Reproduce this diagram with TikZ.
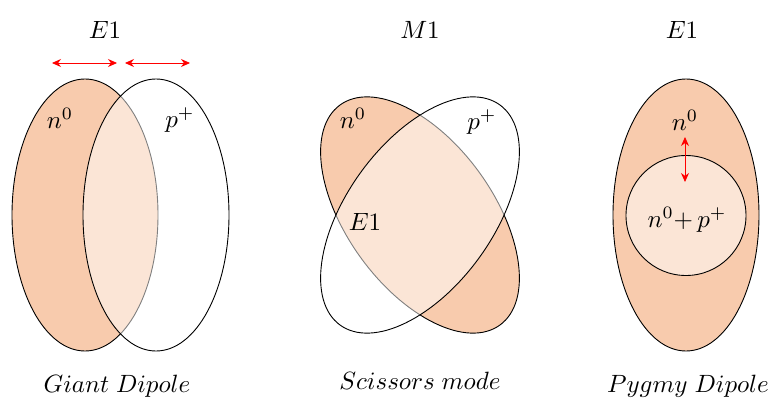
\documentclass[tikz,border=0pt]{standalone}
\usetikzlibrary{arrows.meta}
\definecolor{peach}{HTML}{F8CBAD}
\definecolor{lightpeach}{HTML}{FBE5D6}
\definecolor{arrred}{HTML}{FF0000}
\tikzset{
  filledshape/.style={fill=peach,draw=black,line width=0.9pt},
  whiteshape/.style={fill=white,fill opacity=0.5,draw=black,draw opacity=1,line width=0.9pt},
  innershape/.style={fill=lightpeach,draw=black,line width=0.9pt},
  lbl/.style={inner sep=0pt,scale=2.5},
  redarrow/.style={draw=arrred,line width=0.8pt,{Stealth[length=9pt,width=8pt]}-{Stealth[length=9pt,width=8pt]}}
}
\begin{document}
\begin{tikzpicture}[x=1pt,y=1pt]
\useasboundingbox (0,0) rectangle (780,400);
% Giant dipole
\draw[filledshape] (85,185) ellipse [x radius=73,y radius=136];
\draw[whiteshape] (156,185) ellipse [x radius=73,y radius=136];
\node[lbl] (e1a) at (105,370) {$E1$};
\node[lbl] (na) at (60,282) {$n^0$};
\node[lbl] (pa) at (180,280) {$p^+$};
\node[lbl] (gd) at (117,14) {$Giant\;Dipole$};
\coordinate (a1) at (52,337);
\coordinate (a2) at (117,337);
\coordinate (a3) at (125,337);
\coordinate (a4) at (190,337);
\draw[redarrow] (a1) -- (a2);
\draw[redarrow] (a3) -- (a4);
% Scissors
\draw[filledshape,rotate around={36:(420,185)}] (420,185) ellipse [x radius=73,y radius=136];
\draw[whiteshape,rotate around={-36:(420,185)}] (420,185) ellipse [x radius=73,y radius=136];
\node[lbl] (nb) at (353,282) {$n^0$};
\node[lbl] (pb) at (482,278) {$p^+$};
\node[lbl] (e1m) at (365,178) {$E1$};
\node[lbl] (m1) at (420,370) {$M1$};
\node[lbl] (sm) at (420,19) {$Scissors\;mode$};
% Pygmy
\draw[filledshape] (686,185) ellipse [x radius=73,y radius=136];
\draw[innershape] (686,184.5) circle [radius=60];
\node[lbl] (nc) at (685,280) {$n^0$};
\node[lbl] (npc) at (687,180) {$n^0{+}\,p^+$};
\node[lbl] (e1c) at (682,370) {$E1$};
\node[lbl] (pd) at (688,14) {$Pygmy\;Dipole$};
\coordinate (b1) at (685,263);
\coordinate (b2) at (685,218);
\draw[redarrow] (b1) -- (b2);
\end{tikzpicture}
\end{document}
